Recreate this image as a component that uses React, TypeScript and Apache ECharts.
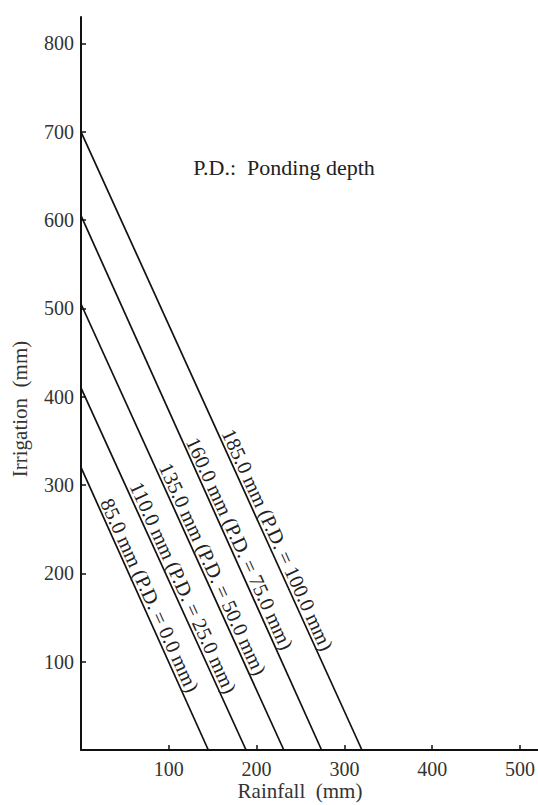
import { useEffect, useRef } from "react";
import * as echarts from "echarts";

// Water requirement (mm) and ponding depth (mm) for each line
const requirements = ["85.0", "110.0", "135.0", "160.0", "185.0"];
const pondingDepths = ["0.0", "25.0", "50.0", "75.0", "100.0"];
// Irrigation at zero rainfall (mm) and rainfall at zero irrigation (mm)
const irrigationIntercepts = [320, 410, 505, 605, 700];
const rainfallIntercepts = [145, 188, 231, 274, 320];
// Tick labels
const xTicks = [100, 200, 300, 400, 500];
const yTicks = [100, 200, 300, 400, 500, 600, 700, 800];

// Layout: where along each line (fraction of x-intercept) its label sits
const labelFraction = [0.54, 0.62, 0.65, 0.66, 0.7];
const labelLift = 28;

const FONT = "'Liberation Serif', 'DejaVu Serif', serif";

export default function App() {
  const ref = useRef<HTMLDivElement>(null);
  useEffect(() => {
    if (!ref.current) return;
    const chart = echarts.init(ref.current, undefined, { renderer: "svg" });
    const series = requirements.map((req, i) => {
      const a = irrigationIntercepts[i];
      const b = rainfallIntercepts[i];
      const lx = b * labelFraction[i];
      const ly = a * (1 - lx / b) + labelLift;
      return {
        type: "line",
        data: [
          [0, a],
          [b, 0],
        ],
        showSymbol: false,
        symbol: "none",
        lineStyle: { color: "#111", width: 1.7 },
        silent: true,
        markPoint: {
          symbol: "circle",
          symbolSize: 0,
          silent: true,
          data: [{ coord: [lx, ly] }],
          label: {
            show: true,
            position: "inside",
            rotate: -65.5,
            align: "center",
            verticalAlign: "middle",
            formatter: `${req} mm (P.D. = ${pondingDepths[i]} mm)`,
            fontFamily: FONT,
            fontSize: 20.5,
            color: "#222",
          },
        },
      };
    });
    chart.setOption({
      animation: false,
      backgroundColor: "#fff",
      grid: { left: 81, right: 0, top: 17, bottom: 55 },
      xAxis: {
        type: "value",
        min: 0,
        max: 520,
        axisLine: { show: true, lineStyle: { color: "#111", width: 2 } },
        axisTick: {
          show: true,
          inside: true,
          length: 5,
          customValues: xTicks,
          lineStyle: { color: "#111", width: 1.5 },
        },
        axisLabel: {
          customValues: xTicks,
          fontFamily: FONT,
          fontSize: 20,
          color: "#333",
          margin: 9,
        },
        splitLine: { show: false },
      },
      yAxis: {
        type: "value",
        min: 0,
        max: 830,
        axisLine: { show: true, lineStyle: { color: "#111", width: 2 } },
        axisTick: {
          show: true,
          inside: true,
          length: 5,
          customValues: yTicks,
          lineStyle: { color: "#111", width: 1.5 },
        },
        axisLabel: {
          customValues: yTicks,
          fontFamily: FONT,
          fontSize: 20,
          color: "#333",
          margin: 7,
        },
        splitLine: { show: false },
      },
      graphic: [
        {
          type: "text",
          x: 284,
          y: 167,
          style: {
            text: "P.D.:  Ponding depth",
            fontFamily: FONT,
            fontSize: 22,
            fill: "#222",
            align: "center",
            verticalAlign: "middle",
          },
        },
        {
          type: "text",
          x: 20,
          y: 409,
          rotation: Math.PI / 2,
          style: {
            text: "Irrigation  (mm)",
            fontFamily: FONT,
            fontSize: 21,
            fill: "#333",
            align: "center",
            verticalAlign: "middle",
          },
        },
        {
          type: "text",
          x: 300,
          y: 791,
          style: {
            text: "Rainfall  (mm)",
            fontFamily: FONT,
            fontSize: 21,
            fill: "#333",
            align: "center",
            verticalAlign: "middle",
          },
        },
      ],
      series,
    });
    return () => chart.dispose();
  }, []);
  return (
    <div
      ref={ref}
      style={{ position: "absolute", left: 0, top: 0, width: 538, height: 805 }}
    />
  );
}
